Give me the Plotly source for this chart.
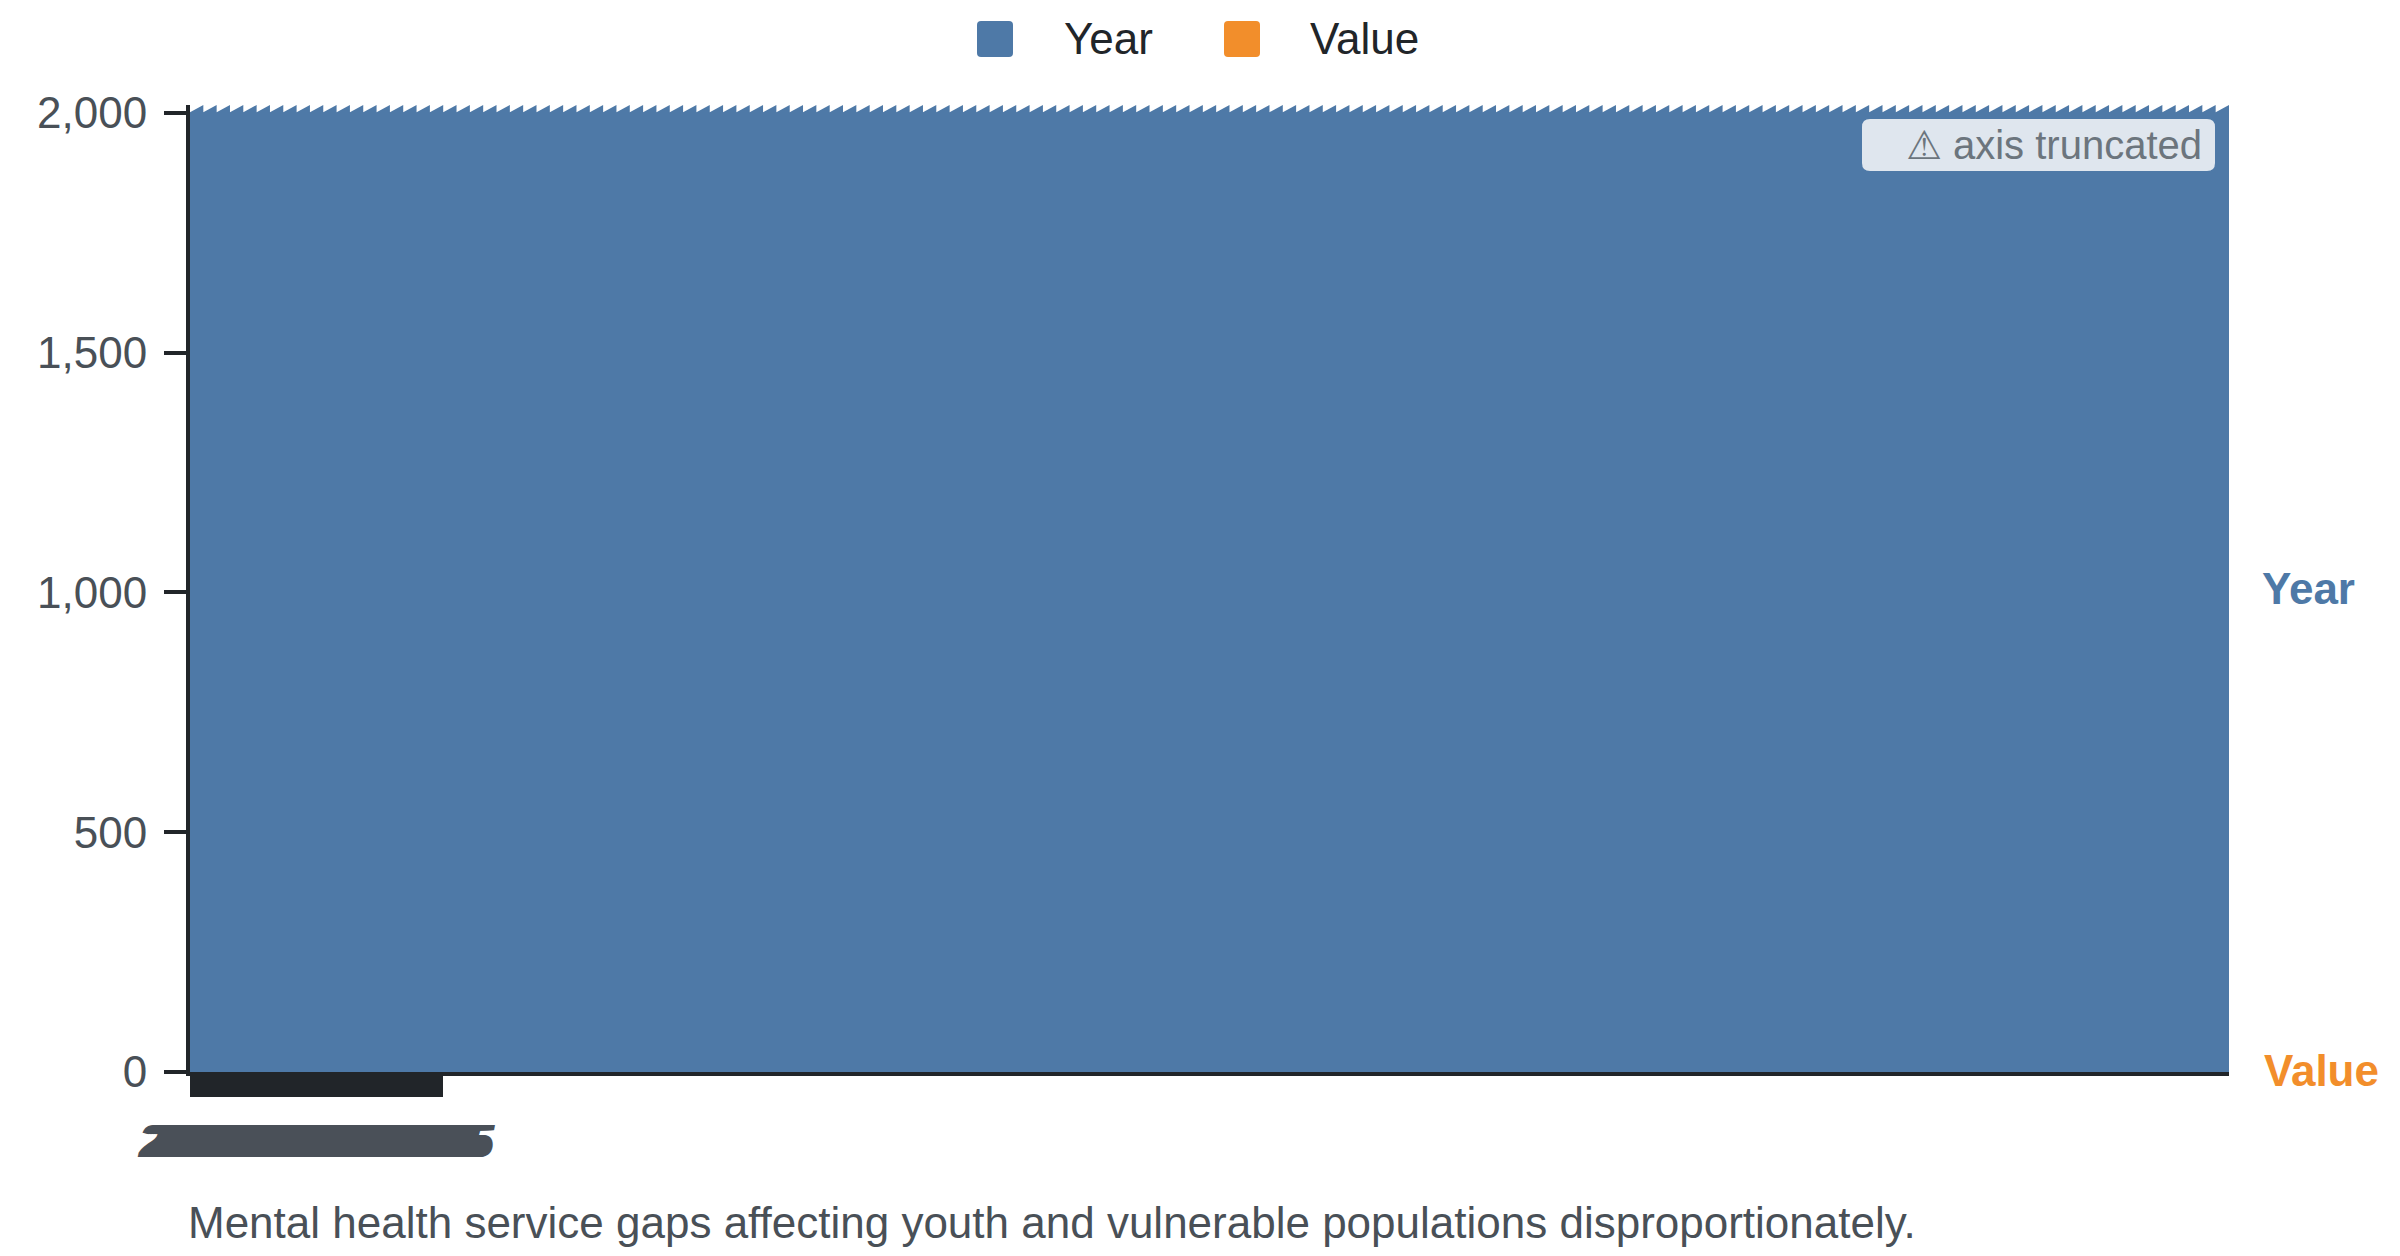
import plotly.graph_objects as go

# ---------------- data ----------------
series_names = ["Year", "Value"]
series_colors = {"Year": "#4e79a7", "Value": "#f28e2b"}

years = [
    2016, 2016, 2016, 2016, 2016, 2016, 2016, 2016, 2016, 2016, 2016, 2016, 2016, 2016, 2016,
    2017, 2017, 2017, 2017, 2017, 2017, 2017, 2017, 2017, 2017, 2017, 2017, 2017, 2017, 2017,
    2018, 2018, 2018, 2018, 2018, 2018, 2018, 2018, 2018, 2018, 2018, 2018, 2018, 2018, 2018, 2018,
    2019, 2019, 2019, 2019, 2019, 2019, 2019, 2019, 2019, 2019, 2019, 2019, 2019, 2019, 2019,
    2020, 2020, 2020, 2020, 2020, 2020, 2020, 2020, 2020, 2020, 2020, 2020, 2020, 2020, 2020, 2020,
    2021, 2021, 2021, 2021, 2021, 2021, 2021, 2021, 2021, 2021, 2021, 2021, 2021, 2021, 2021,
    2022, 2022, 2022, 2022, 2022, 2022, 2022, 2022, 2022, 2022, 2022, 2022, 2022, 2022, 2022,
    2023, 2023, 2023, 2023, 2023, 2023, 2023, 2023, 2023, 2023, 2023, 2023, 2023, 2023, 2023, 2023,
    2024, 2024, 2024, 2024, 2024, 2024, 2024, 2024, 2024, 2024, 2024, 2024, 2024, 2024, 2024,
    2025, 2025, 2025, 2025, 2025, 2025, 2025, 2025, 2025, 2025, 2025, 2025, 2025, 2025, 2025,
]

values = [
    0.24, 0.18, 0.31, 0.09, 0.27, 0.15, 0.36, 0.22, 0.11, 0.29, 0.33, 0.17, 0.20, 0.08, 0.26,
    0.19, 0.34, 0.23, 0.12, 0.28, 0.30, 0.16, 0.25, 0.07, 0.32, 0.21, 0.14, 0.37, 0.20, 0.13,
    0.26, 0.35, 0.18, 0.29, 0.09, 0.24, 0.31, 0.15, 0.22, 0.38, 0.10, 0.27, 0.19, 0.33, 0.25, 0.12,
    0.30, 0.20, 0.16, 0.28, 0.34, 0.08, 0.23, 0.17, 0.36, 0.21, 0.14, 0.29, 0.32, 0.11, 0.26,
    0.18, 0.35, 0.24, 0.10, 0.27, 0.31, 0.15, 0.22, 0.39, 0.13, 0.28, 0.20, 0.34, 0.16, 0.25, 0.09,
    0.30, 0.23, 0.17, 0.36, 0.21, 0.12, 0.29, 0.33, 0.19, 0.26, 0.08, 0.37, 0.24, 0.14, 0.20,
    0.32, 0.18, 0.27, 0.11, 0.35, 0.22, 0.16, 0.28, 0.30, 0.13, 0.25, 0.38, 0.19, 0.23, 0.10,
    0.29, 0.34, 0.15, 0.21, 0.31, 0.09, 0.26, 0.17, 0.36, 0.24, 0.12, 0.28, 0.33, 0.20, 0.14, 0.27,
    0.30, 0.18, 0.25, 0.11, 0.39, 0.22, 0.16, 0.29, 0.32, 0.13, 0.24, 0.35, 0.20, 0.17, 0.26,
    0.10, 0.31, 0.23, 0.19, 0.37, 0.28, 0.15, 0.21, 0.34, 0.12, 0.26, 0.30, 0.18, 0.24, 0.21,
]

x_tick_labels = [str(y) for y in years]
y_tick_values = [0, 500, 1000, 1500, 2000]
y_axis_max = 2016
caption = "Mental health service gaps affecting youth and vulnerable populations disproportionately."
badge_text = "⚠ axis truncated"

# ---------------- layout helpers ----------------
W, H = 2400, 1256
L, R, T, B = 182, 179, 97, 192
PW, PH = W - L - R, H - T - B
FONT = "Liberation Sans, Arial, DejaVu Sans, sans-serif"
DARK = "#212529"
GRAY = "#495057"
DX, DY = -6, -7   # global offset applied to decoration pixel positions


def px(x):
    return (x + DX - L) / PW


def py(y):
    return (H - B - (y + DY)) / PH


def rounded_rect(x0, y0, x1, y1, r):
    pts = [
        f"M {px(x0 + r)},{py(y0)}",
        f"L {px(x1 - r)},{py(y0)}",
        f"Q {px(x1)},{py(y0)} {px(x1)},{py(y0 + r)}",
        f"L {px(x1)},{py(y1 - r)}",
        f"Q {px(x1)},{py(y1)} {px(x1 - r)},{py(y1)}",
        f"L {px(x0 + r)},{py(y1)}",
        f"Q {px(x0)},{py(y1)} {px(x0)},{py(y1 - r)}",
        f"L {px(x0)},{py(y0 + r)}",
        f"Q {px(x0)},{py(y0)} {px(x0 + r)},{py(y0)} Z",
    ]
    return " ".join(pts)


n = min(len(years), len(values))
idx = list(range(n))

fig = go.Figure()
fig.add_trace(go.Bar(x=idx, y=values[:n], name="Value",
                     marker=dict(color=series_colors["Value"], line=dict(width=0)),
                     hoverinfo="skip"))
fig.add_trace(go.Bar(x=idx, y=years[:n], name="Year",
                     marker=dict(color=series_colors["Year"], line=dict(width=0)),
                     hoverinfo="skip"))
# carrier trace for the compressed category label axis
fig.add_trace(go.Scatter(x=idx, y=values[:n], xaxis="x2", yaxis="y", mode="none",
                         hoverinfo="skip", showlegend=False))

# truncation zigzag (one tooth per bar)
depth = 15
top = y_axis_max + 6
zz = [f"M {-0.5},{top}"]
for i in idx:
    zz.append(f"L {i - 0.5},{y_axis_max - depth}")
    zz.append(f"L {i + 0.5},{y_axis_max}")
zz.append(f"L {n - 0.5},{top} Z")
shapes = [dict(type="path", xref="x", yref="y", path=" ".join(zz),
               fillcolor="white", line=dict(width=0), layer="above")]

# badge
shapes.append(dict(type="path", xref="paper", yref="paper",
                   path=rounded_rect(1860, 118, 2213, 170, 8),
                   fillcolor="#dfe6ee", line=dict(width=0), layer="above"))

# manual legend squares
legend_items = [("Year", 975, 1060), ("Value", 1222, 1306)]
for name, sx, tx in legend_items:
    shapes.append(dict(type="path", xref="paper", yref="paper",
                       path=rounded_rect(sx, 20, sx + 36, 56, 4),
                       fillcolor=series_colors[name], line=dict(width=0)))

annotations = []
for name, sx, tx in legend_items:
    annotations.append(dict(xref="paper", yref="paper", x=px(tx), y=py(38),
                            xanchor="left", yanchor="middle", showarrow=False,
                            text=name, font=dict(family=FONT, size=44, color=DARK)))

annotations.append(dict(xref="paper", yref="paper", x=px(2202), y=py(144),
                        xanchor="right", yanchor="middle", showarrow=False,
                        text=badge_text, font=dict(family=FONT, size=40, color="#6c757d")))

# end labels at middle of each stacked band of the last bar
last_val = values[n - 1]
last_year_top = min(values[n - 1] + years[n - 1], y_axis_max)
annotations.append(dict(xref="paper", yref="y", x=px(2258), y=(last_val + last_year_top) / 2,
                        xanchor="left", yanchor="middle", showarrow=False, text="<b>Year</b>",
                        font=dict(family=FONT, size=44, color=series_colors["Year"])))
annotations.append(dict(xref="paper", yref="y", x=px(2260), y=last_val / 2 + 3,
                        xanchor="left", yanchor="middle", showarrow=False, text="<b>Value</b>",
                        font=dict(family=FONT, size=44, color=series_colors["Value"])))

annotations.append(dict(xref="paper", yref="paper", x=-4 / PW, y=py(1221),
                        xanchor="left", yanchor="middle", showarrow=False, text=caption,
                        font=dict(family=FONT, size=44, color=GRAY)))

fig.update_layout(
    width=W, height=H,
    margin=dict(l=L, r=R, t=T, b=B, autoexpand=False),
    paper_bgcolor="white", plot_bgcolor="rgba(0,0,0,0)",
    barmode="stack", bargap=0,
    showlegend=False,
    font=dict(family=FONT, color=GRAY),
    xaxis=dict(domain=[0, 1], range=[-0.5, n - 0.5], showline=True, linecolor=DARK, linewidth=4,
               showticklabels=False, ticks="", showgrid=False, zeroline=False,
               automargin=False),
    xaxis2=dict(domain=[0, 253 / PW], anchor="y", range=[-0.5, n - 0.5],
                tickmode="array", tickvals=idx, ticktext=x_tick_labels[:n],
                ticks="outside", ticklen=24, tickwidth=2, tickcolor=DARK,
                showline=False, showgrid=False, zeroline=False, tickangle=0,
                ticklabelstandoff=4,
                tickfont=dict(family=FONT, size=47, color="#4a5058",
                              weight="bold", style="italic"),
                automargin=False),
    yaxis=dict(domain=[0, 1], range=[0, y_axis_max], tickmode="array", tickvals=y_tick_values,
               tickformat=",", ticks="outside", ticklen=22, tickwidth=4, tickcolor=DARK,
               showline=True, linewidth=4, linecolor=DARK, showgrid=False, zeroline=False,
               ticklabelstandoff=8,
               tickfont=dict(family=FONT, size=44, color=GRAY), automargin=False),
    shapes=shapes,
    annotations=annotations,
)

fig.write_html("out.html")
